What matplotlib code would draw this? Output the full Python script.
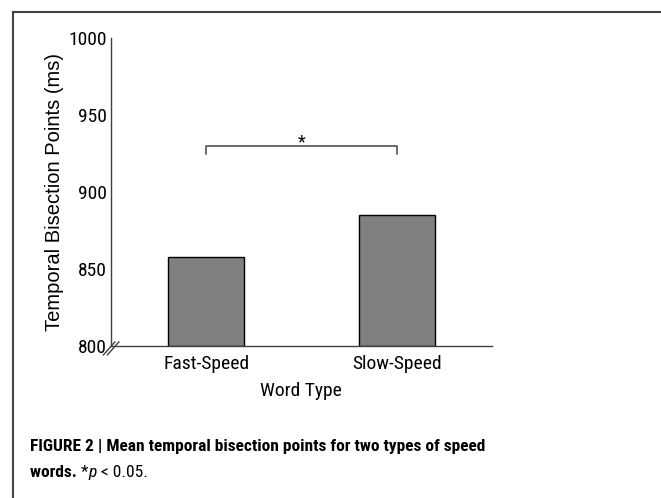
import matplotlib.pyplot as plt
from matplotlib.transforms import offset_copy

# Veriler
kategoriler = ["Fast-Speed", "Slow-Speed"]
degerler = [858, 885]
y_tikler = [800, 850, 900, 950, 1000]
anlamlilik_y = 930
anlamlilik_uc = 924.5

dar_font = ['Roboto Condensed', 'Liberation Sans', 'DejaVu Sans']
plt.rcParams['font.family'] = ['Liberation Sans', 'DejaVu Sans']

fig = plt.figure(figsize=(6.61, 4.98), dpi=100)
ax = fig.add_axes([0.168, 0.306, 0.576, 0.617])

x = list(range(len(kategoriler)))
ax.bar(x, [d - 800 for d in degerler], bottom=800, width=0.4,
       color="#808080", edgecolor="black", linewidth=1)

ax.set_xlim(-0.5, 1.5)
ax.set_ylim(800, 1000)
ax.set_xticks(x)
ax.set_xticklabels(kategoriler, family=dar_font, fontsize=14)
ax.set_yticks(y_tikler)
ax.set_yticklabels([str(t) for t in y_tikler], family=dar_font, fontsize=14)

for s in ["top", "right"]:
    ax.spines[s].set_visible(False)
for s in ["left", "bottom"]:
    ax.spines[s].set_color("#404040")
    ax.spines[s].set_linewidth(1.0)

ax.tick_params(axis="y", length=0, pad=3)
ax.tick_params(axis="x", length=0, pad=7)
ax.set_ylabel("Temporal Bisection Points (ms)", fontsize=14.5, labelpad=3)
ax.set_xlabel("Word Type", family=dar_font, fontsize=14, labelpad=6)

# Anlamlılık çizgisi
ax.plot([x[0], x[0], x[1], x[1]],
        [anlamlilik_uc, anlamlilik_y, anlamlilik_y, anlamlilik_uc],
        color="#444444", linewidth=1.1)
ax.annotate("*", xy=((x[0] + x[1]) / 2, anlamlilik_y), xytext=(0, -4), textcoords="offset points",
            ha="center", va="bottom", fontsize=13, family=dar_font)

# Eksen kırılma işaretleri
for dx in (-3, 1):
    tr = offset_copy(ax.transAxes, fig=fig, x=dx, y=0, units="dots")
    ax.plot([-0.012, 0.018], [-0.03, 0.012], transform=tr, color="#404040",
            linewidth=1, clip_on=False)

# Çerçeve
fig.add_artist(plt.Line2D([13 / 661, 13 / 661], [0, 1 - 12 / 498], color="#444444", linewidth=1.5))
fig.add_artist(plt.Line2D([13 / 661, 1], [1 - 12 / 498, 1 - 12 / 498], color="#444444", linewidth=1.5))

# Başlık yazısı
kfs = 12.5
fig.text(30 / 661, 1 - 447 / 498, "FIGURE 2 | Mean temporal bisection points for two types of speed",
         fontsize=kfs, fontweight="bold", family=dar_font, va="center")
t1 = fig.text(30 / 661, 1 - 472 / 498, "words. ", fontsize=kfs, fontweight="bold",
              family=dar_font, va="center")
t2 = ax.annotate("*", xy=(1, 0), xycoords=t1, va="bottom", ha="left",
                 fontsize=kfs, family=dar_font, annotation_clip=False)
t3 = ax.annotate("p", xy=(1, 0), xycoords=t2, va="bottom", ha="left",
                 fontsize=kfs, family=dar_font, style="italic", annotation_clip=False)
ax.annotate(" < 0.05.", xy=(1, 0), xycoords=t3, va="bottom", ha="left",
            fontsize=kfs, family=dar_font, annotation_clip=False)

fig.savefig("out.png", dpi=100)
